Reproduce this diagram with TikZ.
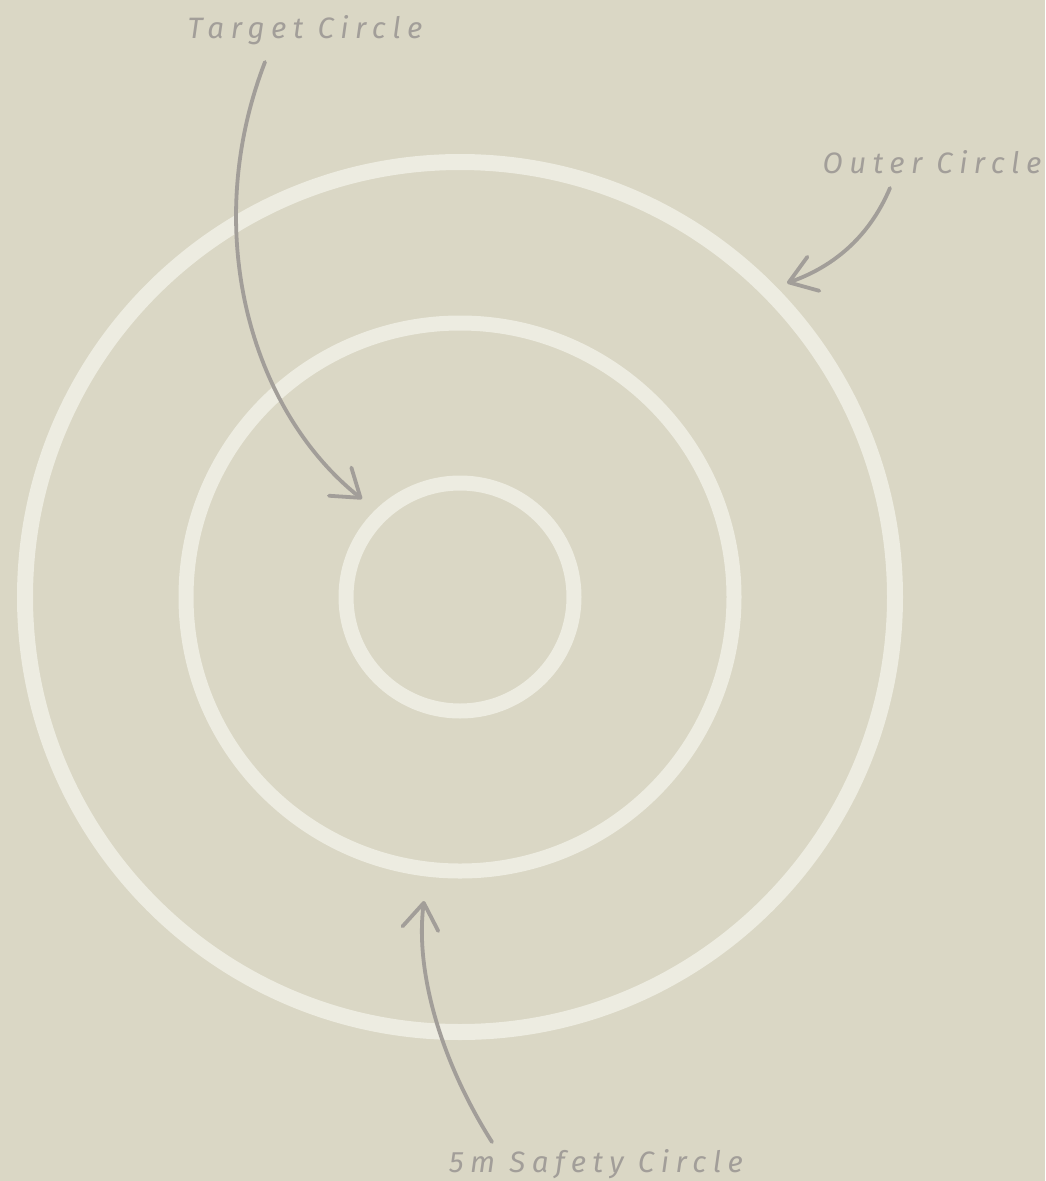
\documentclass[tikz,border=0pt]{standalone}
\usepackage{fontspec}
\setmainfont{Fira Sans}[LetterSpace=22]
\usetikzlibrary{arrows.meta}
\definecolor{bg}{HTML}{DAD7C5}
\definecolor{ring}{HTML}{EDECE1}
\definecolor{ink}{HTML}{A29E99}
\tikzset{
  ringline/.style={draw=ring, line width=16pt},
  lbl/.style={text=ink, font=\itshape\fontsize{29.5}{33}\selectfont, inner sep=0pt},
  pointer/.style={draw=ink, line width=3.8pt, line cap=round,
     -{Straight Barb[length=26pt, width=36pt, line width=3.8pt, round]}}
}
\begin{document}
\begin{tikzpicture}[x=1pt,y=-1pt]
\fill[bg] (0,0) rectangle (1045,1181);
\useasboundingbox (0,0) rectangle (1045,1181);
\coordinate (c) at (460,597);
\draw[ringline] (c) circle[radius=435];
\draw[ringline, line width=15pt] (c) circle[radius=274];
\draw[ringline, line width=15pt] (c) circle[radius=114];
\node[lbl] (target) at (305,30) {Target Circle};
\node[lbl] (outer) at (932,162) {Outer Circle};
\node[lbl] (safety) at (596,1164) {5m Safety Circle};
\coordinate (t1) at (265,62);
\coordinate (t2) at (362,499);
\coordinate (o1) at (890,188);
\coordinate (o2) at (787,283);
\coordinate (s1) at (492,1142);
\coordinate (s2) at (424,901);
\draw[pointer] (t1) .. controls (200,230) and (250,410) .. (t2);
\draw[pointer] (o1) .. controls (868,240) and (830,268) .. (o2);
\draw[pointer] (s1) .. controls (440,1060) and (415,970) .. (s2);
\end{tikzpicture}
\end{document}
